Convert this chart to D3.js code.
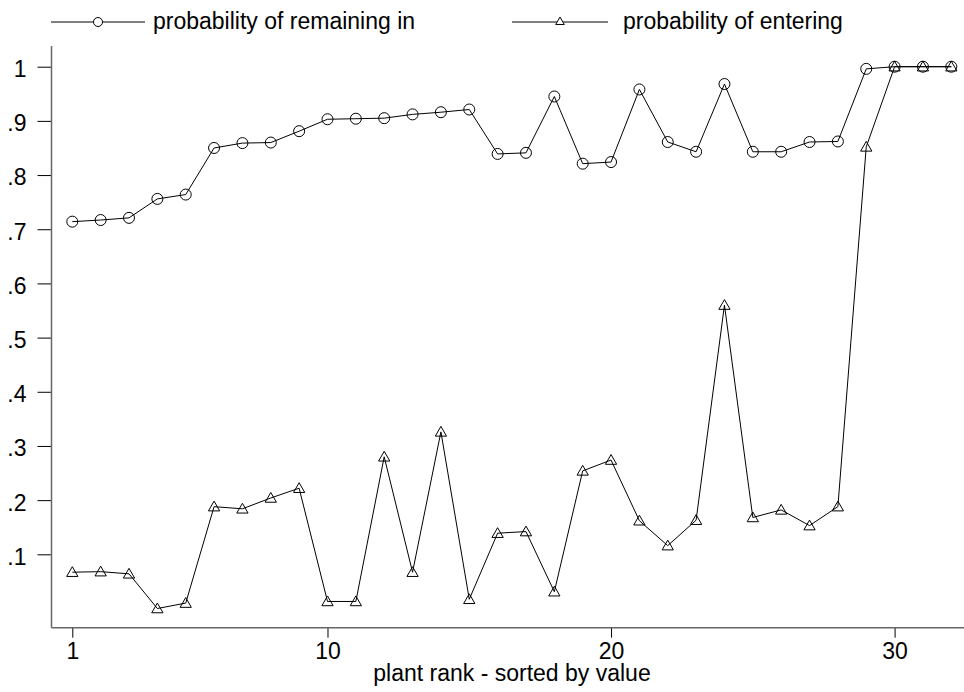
<!DOCTYPE html>
<html lang="en">
<head>
<meta charset="UTF-8">
<title>plant rank chart</title>
<script src="https://d3js.org/d3.v7.min.js"></script>
<style>
  body { margin: 0; background: #fff; }
  svg { display: block; font-family: "Liberation Sans", Arial, sans-serif; }
</style>
</head>
<body>
<svg id="chart" width="964" height="692"></svg>
<script>

const ranks = d3.range(1, 33);
const remaining = [0.714, 0.717, 0.721, 0.756, 0.764, 0.850, 0.859, 0.860, 0.881, 0.903,
                   0.904, 0.905, 0.912, 0.916, 0.921, 0.839, 0.841, 0.945, 0.821, 0.824,
                   0.958, 0.861, 0.843, 0.968, 0.843, 0.843, 0.861, 0.862, 0.996, 1.0,
                   1.0, 1.0];
const entering = [0.067, 0.068, 0.064, 0.0, 0.010, 0.188, 0.184, 0.204, 0.222, 0.013,
                  0.013, 0.280, 0.067, 0.326, 0.017, 0.139, 0.142, 0.031, 0.254, 0.274,
                  0.162, 0.116, 0.163, 0.560, 0.168, 0.182, 0.153, 0.188, 0.852, 1.0,
                  1.0, 1.0];
const xTicks = [1, 10, 20, 30];
const yTicks = [0.1, 0.2, 0.3, 0.4, 0.5, 0.6, 0.7, 0.8, 0.9, 1];
const seriesNames = ["probability of remaining in", "probability of entering"];

const svg = d3.select('#chart');
const x = d3.scaleLinear().domain([1, 32]).range([72.3, 951.3]);
const y = d3.scaleLinear().domain([0, 1]).range([608.5, 66.7]);
const axisX = 51.5, axisY = 627.7;

const fmt = v => v === 1 ? "1" : d3.format(".1f")(v).replace(/^0/, "");

// y axis
const yAxis = d3.axisLeft(y).tickValues(yTicks).tickFormat(fmt).tickSize(14).tickPadding(11);
const gy = svg.append('g').attr('transform', `translate(${axisX},0)`).call(yAxis);
gy.select('.domain').remove();
gy.selectAll('.tick text').attr('dy', '0.43em');
gy.append('line').attr('x1', 0).attr('x2', 0).attr('y1', 46).attr('y2', axisY)
  .attr('stroke', '#666').attr('stroke-width', 1.5);

// x axis
const xAxis = d3.axisBottom(x).tickValues(xTicks).tickSize(10).tickPadding(5);
const gx = svg.append('g').attr('transform', `translate(0,${axisY})`).call(xAxis);
gx.select('.domain').remove();
gx.append('line').attr('x1', axisX).attr('x2', 964).attr('y1', 0).attr('y2', 0)
  .attr('stroke', '#666').attr('stroke-width', 1.5);

svg.selectAll('.tick text').attr('font-size', 23).attr('fill', '#000')
  .attr('font-family', '"Liberation Sans", Arial, sans-serif');
svg.selectAll('.tick line').attr('stroke', '#000');

svg.append('text').attr('x', 512).attr('y', 681).attr('text-anchor', 'middle')
  .attr('font-size', 23).text('plant rank - sorted by value');

const line = d3.line().x(d => x(d[0])).y(d => y(d[1]));
const tri = d3.symbol().type(d3.symbolTriangle);

// remaining series
const remPts = ranks.map((r, i) => [r, remaining[i]]);
svg.append('path').datum(remPts).attr('d', line)
  .attr('fill', 'none').attr('stroke', '#000').attr('stroke-width', 1);
svg.selectAll('circle.rem').data(remPts).enter().append('circle')
  .attr('class', 'rem')
  .attr('cx', d => x(d[0])).attr('cy', d => y(d[1])).attr('r', 5.5)
  .attr('fill', 'none').attr('stroke', '#000').attr('stroke-width', 1);

// entering series
const entPts = ranks.map((r, i) => [r, entering[i]]);
svg.append('path').datum(entPts).attr('d', line)
  .attr('fill', 'none').attr('stroke', '#000').attr('stroke-width', 1);
svg.selectAll('path.ent').data(entPts).enter().append('path')
  .attr('class', 'ent')
  .attr('d', tri.size(55))
  .attr('transform', d => `translate(${x(d[0])},${y(d[1]) + 1})`)
  .attr('fill', 'none').attr('stroke', '#000').attr('stroke-width', 1);

// legend
const legend = [
  { x1: 51, x2: 145, tx: 153, name: seriesNames[0], mark: 'circle' },
  { x1: 512, x2: 608, tx: 623, name: seriesNames[1], mark: 'tri' }
];
legend.forEach(l => {
  const g = svg.append('g');
  g.append('line').attr('x1', l.x1).attr('x2', l.x2).attr('y1', 22).attr('y2', 22)
    .attr('stroke', '#000').attr('stroke-width', 1);
  const mx = (l.x1 + l.x2) / 2;
  if (l.mark === 'circle') {
    g.append('circle').attr('cx', mx).attr('cy', 22).attr('r', 4.5)
      .attr('fill', '#fff').attr('stroke', '#000');
  } else {
    g.append('path').attr('d', tri.size(32)).attr('transform', `translate(${mx},22)`)
      .attr('fill', '#fff').attr('stroke', '#000');
  }
  g.append('text').attr('x', l.tx).attr('y', 28.5).attr('font-size', 23).text(l.name);
});

</script>
</body>
</html>
